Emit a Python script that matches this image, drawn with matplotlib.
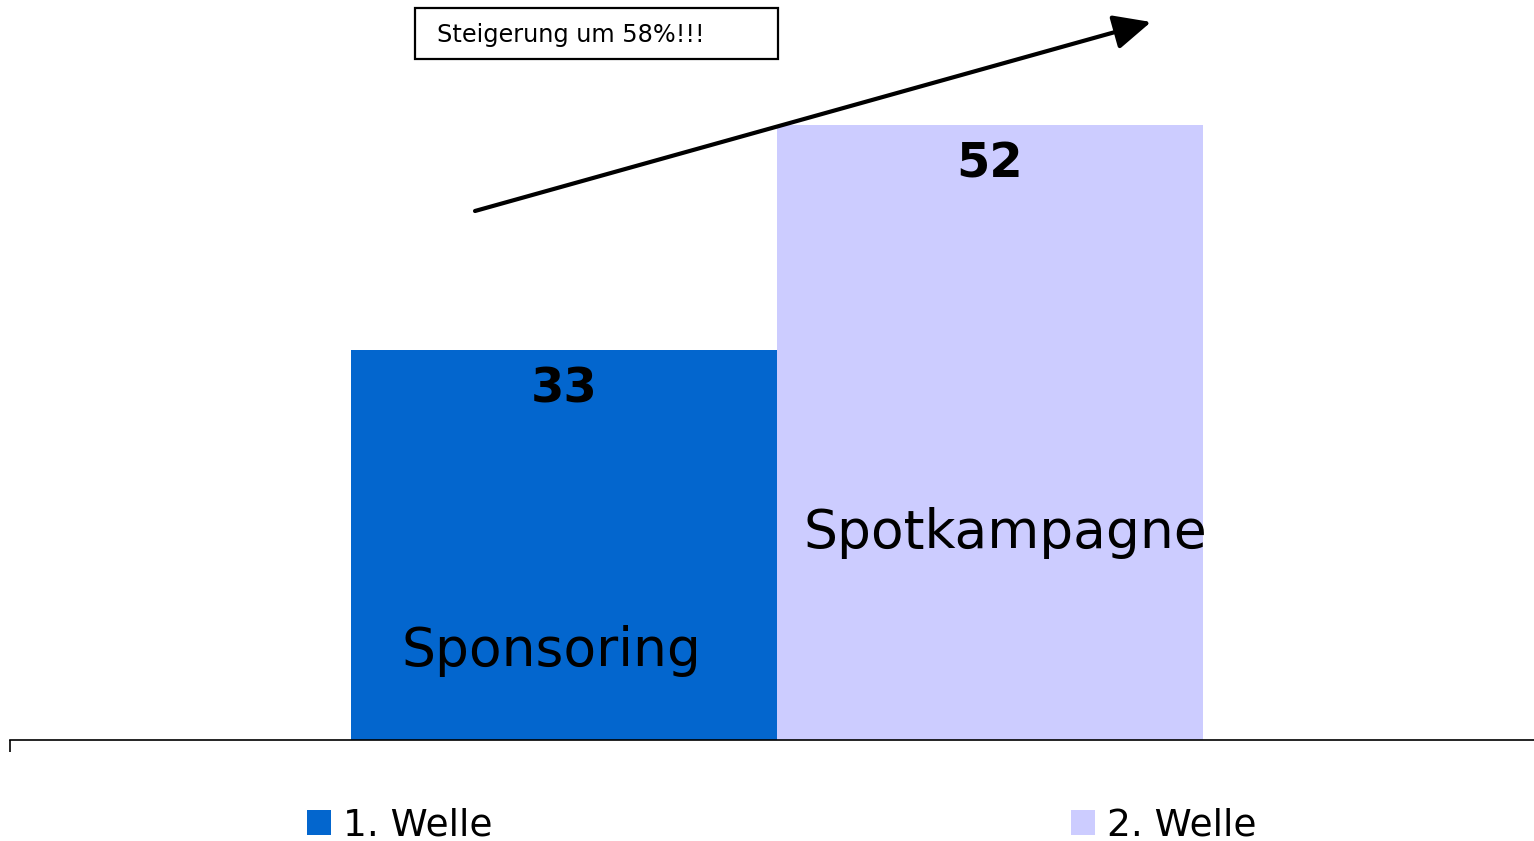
import numpy as np
import matplotlib.pyplot as plt
from matplotlib.patches import Rectangle, Patch

# data
categories = ['Sponsoring', 'Spotkampagne']
values = [33, 52]
series = ['1. Welle', '2. Welle']
colors = ['#0366CE', '#CCCCFF']
note = 'Steigerung um 58%!!!'

W, H = 1534, 841
fig = plt.figure(figsize=(W / 100, H / 100), dpi=100)

# axes: left edge at x=10px, baseline at y=740px
ax = fig.add_axes([10 / W, 1 - 740 / H, 1 - 10 / W, 740 / H])
x = np.arange(len(values))
ax.bar(x, values, width=1.0, color=colors, edgecolor='none')
ax.set_xlim(-1.3005, 2.277)
ax.set_ylim(0, 62.6)

for s in ['top', 'right', 'left']:
    ax.spines[s].set_visible(False)
ax.spines['bottom'].set_linewidth(1.2)
ax.set_yticks([])
ax.set_xticks([-1.3005])
ax.set_xticklabels([])
ax.tick_params(axis='x', length=8.5, width=1.2, direction='out')

# value labels
for xi, v in zip(x, values):
    ax.text(xi, v - 3.3, str(v), ha='center', va='center',
            fontsize=34.5, fontweight='bold', color='black')

# category names inside the bars
name_x = [-0.03, 1.035]
name_y = [7.5, 17.5]
for xn, yn, c in zip(name_x, name_y, categories):
    ax.text(xn, yn, c, ha='center', va='center', fontsize=38.5, color='black')

# annotation box
fig.patches.append(Rectangle((415 / W, 1 - 59 / H), 363 / W, 51 / H,
                             transform=fig.transFigure, fill=False,
                             edgecolor='black', linewidth=1.6))
fig.text(437 / W, 1 - 35 / H, note, ha='left', va='center', fontsize=17.3)

# arrow
ax.annotate('', xy=(1151 / W, 1 - 22 / H), xytext=(475 / W, 1 - 211 / H),
            xycoords='figure fraction', textcoords='figure fraction',
            arrowprops=dict(arrowstyle='-|>,head_length=0.6,head_width=0.28',
                            mutation_scale=38, lw=3, color='black',
                            shrinkA=0, shrinkB=0))

# legend
handles = [Patch(facecolor=c, edgecolor='none') for c in colors]
fig.legend(handles, series, loc='center left',
           bbox_to_anchor=(307 / W, 1 - 826 / H), ncol=2, frameon=False,
           fontsize=27, handlelength=0.64, handleheight=0.64,
           handletextpad=0.32, columnspacing=15.42, borderpad=0,
           borderaxespad=0)

fig.savefig('out.png', dpi=100)
